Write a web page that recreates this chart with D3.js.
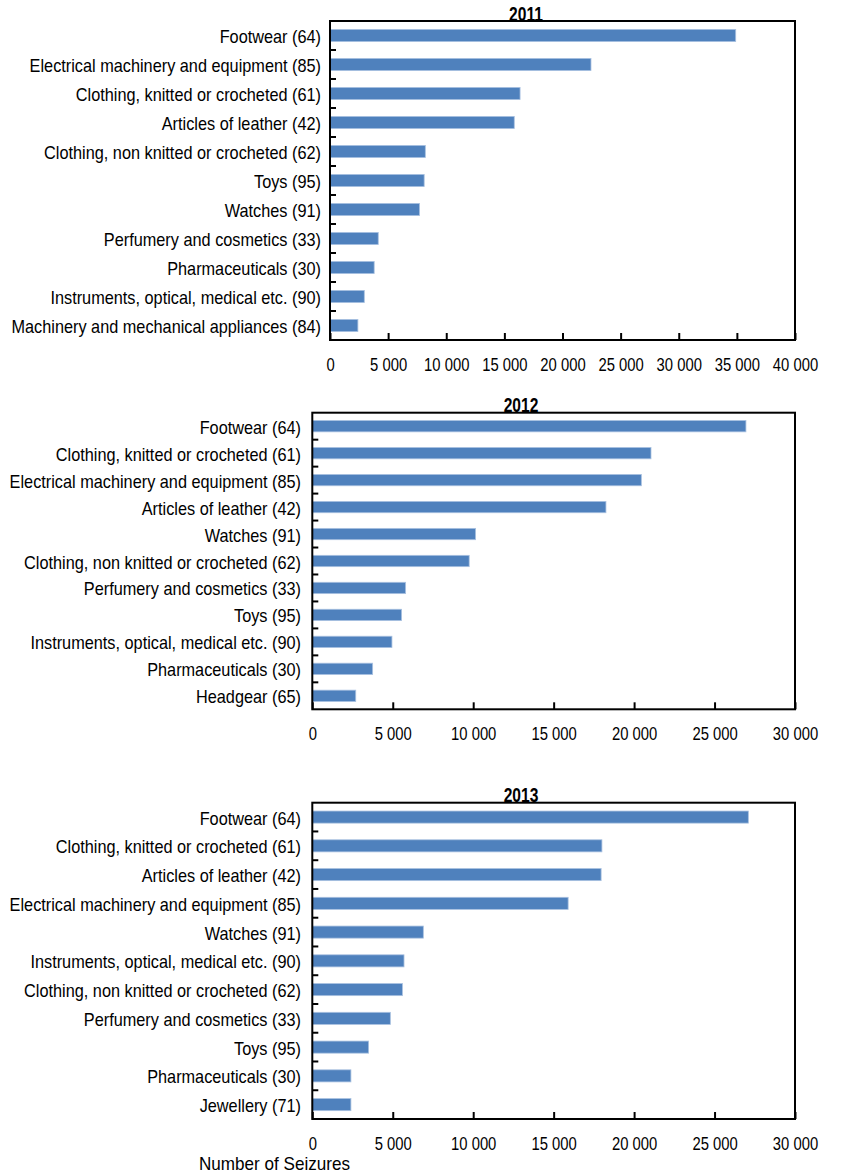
<!DOCTYPE html>
<html>
<head>
<meta charset="utf-8">
<script src="https://cdn.jsdelivr.net/npm/d3@7"></script>
<style>
  html, body { margin: 0; padding: 0; background: #fff; }
  svg { display: block; font-family: "Liberation Sans", Arial, sans-serif; }
</style>
</head>
<body>
<svg id="chart" width="846" height="1174"></svg>
<script>
// ---- Data ----
const years = ["2011", "2012", "2013"];

const categories2011 = [
  "Footwear (64)",
  "Electrical machinery and equipment (85)",
  "Clothing, knitted or crocheted (61)",
  "Articles of leather (42)",
  "Clothing, non knitted or crocheted (62)",
  "Toys (95)",
  "Watches (91)",
  "Perfumery and cosmetics (33)",
  "Pharmaceuticals (30)",
  "Instruments, optical, medical etc. (90)",
  "Machinery and mechanical appliances (84)"
];
const values2011 = [34900, 22450, 16350, 15850, 8200, 8100, 7700, 4150, 3800, 2950, 2400];

const categories2012 = [
  "Footwear (64)",
  "Clothing, knitted or crocheted (61)",
  "Electrical machinery and equipment (85)",
  "Articles of leather (42)",
  "Watches (91)",
  "Clothing, non knitted or crocheted (62)",
  "Perfumery and cosmetics (33)",
  "Toys (95)",
  "Instruments, optical, medical etc. (90)",
  "Pharmaceuticals (30)",
  "Headgear (65)"
];
const values2012 = [26950, 21050, 20450, 18250, 10150, 9750, 5800, 5550, 4950, 3750, 2700];

const categories2013 = [
  "Footwear (64)",
  "Clothing, knitted or crocheted (61)",
  "Articles of leather (42)",
  "Electrical machinery and equipment (85)",
  "Watches (91)",
  "Instruments, optical, medical etc. (90)",
  "Clothing, non knitted or crocheted (62)",
  "Perfumery and cosmetics (33)",
  "Toys (95)",
  "Pharmaceuticals (30)",
  "Jewellery (71)"
];
const values2013 = [27100, 18000, 17950, 15900, 6900, 5700, 5600, 4850, 3500, 2400, 2400];

const ticks2011 = [0, 5000, 10000, 15000, 20000, 25000, 30000, 35000, 40000];
const ticks2012 = [0, 5000, 10000, 15000, 20000, 25000, 30000];
const ticks2013 = [0, 5000, 10000, 15000, 20000, 25000, 30000];

const xAxisTitle = "Number of Seizures";

// ---- Layout ----
const panels = [
  { title: years[0], cats: categories2011, vals: values2011, ticks: ticks2011,
    left: 330, right: 795, top: 21, bottom: 340, labelEnd: 321, titleX: 526 },
  { title: years[1], cats: categories2012, vals: values2012, ticks: ticks2012,
    left: 312.3, right: 795, top: 412.7, bottom: 709.3, labelEnd: 301, titleX: 521 },
  { title: years[2], cats: categories2013, vals: values2013, ticks: ticks2013,
    left: 312.3, right: 795, top: 802.7, bottom: 1119, labelEnd: 301, titleX: 521 }
];

const fmt = d3.formatLocale({ decimal: ".", thousands: " ", grouping: [3], currency: ["", ""] }).format(",.0f");

const svg = d3.select("#chart");
const barColor = "#4F81BD";

panels.forEach(p => {
  const g = svg.append("g");
  const x = d3.scaleLinear()
    .domain([p.ticks[0], p.ticks[p.ticks.length - 1]])
    .range([p.left, p.right]);
  const pad = 0.58;
  const y = d3.scaleBand()
    .domain(p.cats)
    .range([p.top, p.bottom])
    .paddingInner(pad)
    .paddingOuter(pad / 2);

  // bars
  g.selectAll("rect.bar")
    .data(p.cats.map((c, i) => ({ c, v: p.vals[i] })))
    .join("rect")
    .attr("class", "bar")
    .attr("x", x(0))
    .attr("y", d => y(d.c))
    .attr("width", d => x(d.v) - x(0))
    .attr("height", y.bandwidth())
    .attr("fill", barColor)
    .attr("stroke", "#A9C1E0")
    .attr("stroke-width", 0.8);

  // frame
  g.append("rect")
    .attr("x", p.left).attr("y", p.top)
    .attr("width", p.right - p.left).attr("height", p.bottom - p.top)
    .attr("fill", "none").attr("stroke", "#000").attr("stroke-width", 2);

  // x axis (inward ticks)
  const xAxis = d3.axisBottom(x)
    .tickValues(p.ticks)
    .tickSize(-7)
    .tickSizeOuter(0)
    .tickPadding(0)
    .tickFormat(fmt);
  const ax = g.append("g").attr("transform", `translate(0,${p.bottom})`).call(xAxis);
  ax.select(".domain").remove();
  ax.selectAll(".tick line").attr("stroke", "#000").attr("stroke-width", 2);
  ax.selectAll(".tick text")
    .attr("y", null).attr("dy", null)
    .attr("font-size", 19)
    .attr("fill", "#000")
    .attr("text-anchor", "middle")
    .attr("transform", "translate(0,31) scale(0.78,1)");

  // y category boundary ticks (inward)
  const bounds = p.cats.slice(1).map(c => y(c) - y.step() * pad / 2);
  g.selectAll("line.ytick")
    .data(bounds)
    .join("line")
    .attr("class", "ytick")
    .attr("x1", p.left).attr("x2", p.left + 6)
    .attr("y1", d => d).attr("y2", d => d)
    .attr("stroke", "#000").attr("stroke-width", 2);

  // category labels
  g.selectAll("text.cat")
    .data(p.cats)
    .join("text")
    .attr("class", "cat")
    .attr("text-anchor", "end")
    .attr("font-size", 18)
    .attr("fill", "#000")
    .attr("transform", d => `translate(${p.labelEnd},${y(d) + y.bandwidth() / 2 + 7.5}) scale(0.905,1)`)
    .text(d => d);

  // title
  g.append("text")
    .attr("text-anchor", "middle")
    .attr("font-size", 20)
    .attr("font-weight", "bold")
    .attr("fill", "#000")
    .attr("transform", `translate(${p.titleX},${p.top - 0.5}) scale(0.78,1)`)
    .text(p.title);
});

// x axis title
svg.append("text")
  .attr("transform", "translate(199,1170) scale(0.95,1)")
  .attr("font-size", 18)
  .attr("fill", "#000")
  .text(xAxisTitle);
</script>
</body>
</html>
